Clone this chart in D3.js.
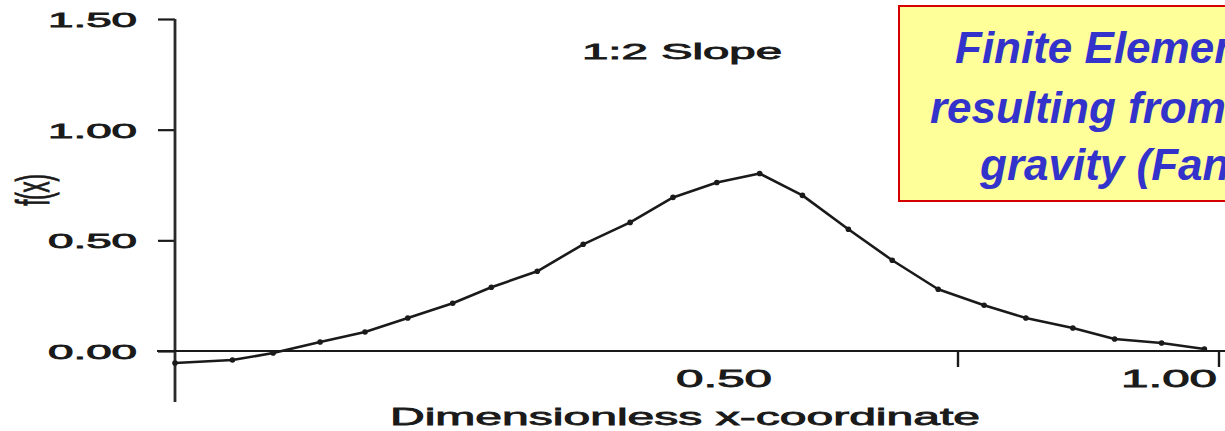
<!DOCTYPE html>
<html>
<head>
<meta charset="utf-8">
<script src="https://cdn.jsdelivr.net/npm/d3@7"></script>
<style>
  html, body { margin: 0; padding: 0; background: #fff; overflow: hidden; }
  svg { display: block; }
</style>
</head>
<body>
<svg id="chart" width="1225" height="431"></svg>
<script>
// ---- data ----
const xValues = [0.000, 0.055, 0.094, 0.139, 0.182, 0.223, 0.266, 0.303, 0.347, 0.391, 0.436, 0.477,
                 0.519, 0.560, 0.601, 0.645, 0.687, 0.731, 0.775, 0.815, 0.860, 0.900, 0.945, 0.986];
const fValues = [-0.054, -0.041, -0.009, 0.041, 0.086, 0.149, 0.216, 0.288, 0.360, 0.482, 0.581, 0.694,
                 0.761, 0.802, 0.703, 0.550, 0.410, 0.279, 0.207, 0.149, 0.104, 0.054, 0.036, 0.009];
const yTickValues = [0, 0.5, 1.0, 1.5];
const yTickLabels = ["0.00", "0.50", "1.00", "1.50"];
const xTickMarks = [0.75, 1.0];
const xTickLabelValues = [0.5, 1.0];
const xTickLabels = ["0.50", "1.00"];
const yTitle = "f(x)";
const xTitle = "Dimensionless x-coordinate";
const annotation = "1:2 Slope";
const boxLines = ["Finite Element", "resulting from", "gravity (Fang)"];

// ---- layout ----
const svg = d3.select("#chart");
const x = d3.scaleLinear().domain([0, 1]).range([175, 1219]);
const y = d3.scaleLinear().domain([0, 1.5]).range([351, 19]);
const ink = "#1a1a1a";
const font = "'Liberation Sans', Arial, Helvetica, sans-serif";

function heavy(sel) {
  return sel.attr("fill", ink).attr("stroke", ink).attr("stroke-width", 0.8)
            .style("font-family", font);
}

// y axis (ticks + stretched labels)
const yAxis = svg.append("g")
  .attr("transform", `translate(${x(0)},0)`)
  .call(d3.axisLeft(y).tickValues(yTickValues).tickSize(17).tickSizeOuter(0)
        .tickFormat((d, i) => yTickLabels[i]));
yAxis.select(".domain").remove();
yAxis.selectAll(".tick line").attr("stroke", ink).attr("stroke-width", 2.2);
heavy(yAxis.selectAll(".tick text"))
  .attr("x", -38).attr("dy", "0.36em")
  .style("font-size", "21px")
  .attr("text-anchor", "end")
  .attr("textLength", 89).attr("lengthAdjust", "spacingAndGlyphs");

// y axis line (extends below zero)
svg.append("line")
  .attr("x1", x(0)).attr("x2", x(0))
  .attr("y1", y(1.5)).attr("y2", y(0) + 51)
  .attr("stroke", "#2a2a2a").attr("stroke-width", 2.8);

// x axis line
svg.append("line")
  .attr("x1", x(0) - 18).attr("x2", 1225)
  .attr("y1", y(0)).attr("y2", y(0))
  .attr("stroke", ink).attr("stroke-width", 2);

// x tick marks (downward)
svg.append("g").selectAll("line").data(xTickMarks).join("line")
  .attr("x1", d => x(d)).attr("x2", d => x(d))
  .attr("y1", y(0)).attr("y2", y(0) + 16)
  .attr("stroke", ink).attr("stroke-width", 2.4);

// x tick labels (offset as in the scanned figure)
const xLabelShift = [75, -2];
heavy(svg.append("g").selectAll("text").data(xTickLabelValues).join("text"))
  .attr("x", (d, i) => x(d) + xLabelShift[i])
  .attr("y", 387)
  .attr("text-anchor", "end")
  .style("font-size", "24px")
  .attr("textLength", 96).attr("lengthAdjust", "spacingAndGlyphs")
  .text((d, i) => xTickLabels[i]);

// x title
heavy(svg.append("text"))
  .attr("x", 390).attr("y", 425)
  .style("font-size", "24px")
  .attr("textLength", 590).attr("lengthAdjust", "spacingAndGlyphs")
  .text(xTitle);

// y title (rotated, stretched horizontally)
heavy(svg.append("text"))
  .attr("transform", "translate(49,190) scale(2.1,1) rotate(-90)")
  .attr("text-anchor", "middle")
  .attr("stroke-width", 0.5)
  .style("font-size", "22px")
  .text(yTitle);

// annotation
heavy(svg.append("text"))
  .attr("x", 582).attr("y", 59)
  .style("font-size", "22px")
  .attr("textLength", 200).attr("lengthAdjust", "spacingAndGlyphs")
  .text(annotation);

// curve
const pts = xValues.map((v, i) => [v, fValues[i]]);
svg.append("path")
  .datum(pts)
  .attr("fill", "none")
  .attr("stroke", ink)
  .attr("stroke-width", 2.6)
  .attr("stroke-linejoin", "round")
  .attr("d", d3.line().x(d => x(d[0])).y(d => y(d[1])));
svg.append("g").selectAll("circle").data(pts).join("circle")
  .attr("cx", d => x(d[0])).attr("cy", d => y(d[1]))
  .attr("r", 2.8).attr("fill", ink);

// yellow callout box (runs off the right edge, as in the reference)
const defs = svg.append("defs");
defs.append("clipPath").attr("id", "clipAll")
  .append("rect").attr("x", 0).attr("y", 0).attr("width", 1225).attr("height", 431);
const box = svg.append("g").attr("clip-path", "url(#clipAll)");
box.append("rect")
  .attr("x", 899).attr("y", 6).attr("width", 360).attr("height", 195)
  .attr("fill", "#ffff99").attr("stroke", "#d40000").attr("stroke-width", 2);
const boxStarts = [955, 930, 980];
const boxBaselines = [63, 123, 180];
box.selectAll("text.box").data(boxLines).join("text")
  .attr("class", "box")
  .attr("x", (d, i) => boxStarts[i]).attr("y", (d, i) => boxBaselines[i])
  .attr("fill", "#3333cc")
  .style("font-family", font).style("font-size", "44px")
  .style("font-weight", "bold").style("font-style", "italic")
  .text(d => d);
</script>
</body>
</html>
